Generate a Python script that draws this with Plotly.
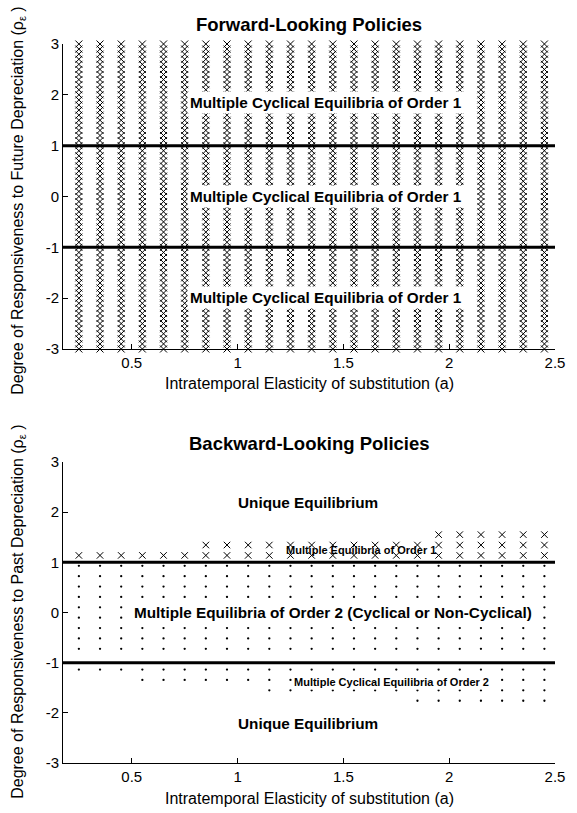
import plotly.graph_objects as go

# ---------------- data ----------------
alpha = [0.25, 0.35, 0.45, 0.55, 0.65, 0.75, 0.85, 0.95, 1.05, 1.15, 1.25, 1.35,
         1.45, 1.55, 1.65, 1.75, 1.85, 1.95, 2.05, 2.15, 2.25, 2.35, 2.45]

# forward-looking: grid of rho values, every one is a cyclical equilibrium (x)
rho_fw = [-3.0, -2.9, -2.8, -2.7, -2.6, -2.5, -2.4, -2.3, -2.2, -2.1,
          -2.0, -1.9, -1.8, -1.7, -1.6, -1.5, -1.4, -1.3, -1.2, -1.1,
          -1.0, -0.9, -0.8, -0.7, -0.6, -0.5, -0.4, -0.3, -0.2, -0.1,
          0.0, 0.1, 0.2, 0.3, 0.4, 0.5, 0.6, 0.7, 0.8, 0.9,
          1.0, 1.1, 1.2, 1.3, 1.4, 1.5, 1.6, 1.7, 1.8, 1.9,
          2.0, 2.1, 2.2, 2.3, 2.4, 2.5, 2.6, 2.7, 2.8, 2.9, 3.0]

# backward-looking: rho rows
rho_bw_above = [1.138, 1.345, 1.552]                 # cyclical order 1 (x)
rho_bw_mid = [0.931, 0.724, 0.517, 0.310, 0.103,
              -0.103, -0.310, -0.517, -0.724]        # order 2 (.)
rho_bw_below = [-1.138, -1.345, -1.552, -1.759]      # cyclical order 2 (.)
n_above = [1, 1, 1, 1, 1, 1, 2, 2, 2, 2, 2, 2, 2, 2, 2, 2, 2, 3, 3, 3, 3, 3, 3]
n_below = [1, 1, 1, 2, 2, 2, 2, 2, 2, 3, 3, 3, 3, 3, 3, 3, 4, 4, 4, 4, 4, 4, 4]

boundaries = [1, -1]
x_ticks = [0.5, 1, 1.5, 2, 2.5]
x_ticktext = ["0.5", "1", "1.5", "2", "2.5"]
y_ticks = [-3, -2, -1, 0, 1, 2, 3]
y_ticktext = ["-3", "-2", "-1", "0", "1", "2", "3"]

FONT = "Liberation Sans, Arial, Helvetica, sans-serif"

# ---------------- traces ----------------
fig = go.Figure()

fx, fy = [], []
for a in alpha:
    for r in rho_fw:
        fx.append(a)
        fy.append(r)
fig.add_trace(go.Scatter(x=fx, y=fy, mode="markers", xaxis="x", yaxis="y",
                         marker=dict(symbol="x-thin", size=7, color="black",
                                     line=dict(width=1, color="black")),
                         cliponaxis=False, showlegend=False, hoverinfo="skip"))

bx, by = [], []
for a, n in zip(alpha, n_above):
    for r in rho_bw_above[:n]:
        bx.append(a)
        by.append(r)
fig.add_trace(go.Scatter(x=bx, y=by, mode="markers", xaxis="x2", yaxis="y2",
                         marker=dict(symbol="x-thin", size=6.5, color="black",
                                     line=dict(width=1, color="black")),
                         cliponaxis=False, showlegend=False, hoverinfo="skip"))

dx, dy = [], []
for a, n in zip(alpha, n_below):
    for r in rho_bw_mid + rho_bw_below[:n]:
        dx.append(a)
        dy.append(r)
fig.add_trace(go.Scatter(x=dx, y=dy, mode="markers", xaxis="x2", yaxis="y2",
                         marker=dict(symbol="circle", size=2.3, color="black",
                                     line=dict(width=0)),
                         cliponaxis=False, showlegend=False, hoverinfo="skip"))

# boundary lines
shapes = []
for xr, yr in (("x domain", "y"), ("x2 domain", "y2")):
    for b in boundaries:
        shapes.append(dict(type="line", xref=xr, yref=yr, x0=0, x1=1, y0=b, y1=b,
                           line=dict(color="black", width=3), layer="above"))

# ---------------- layout ----------------
W, H = 577, 813
ML, MR, MT, MB = 63, 13, 44, 50
PW, PH = W - ML - MR, H - MT - MB


def py(pix):
    return (H - MB - pix) / PH


def px(pix):
    return (pix - ML) / PW


axis_common = dict(showline=True, linecolor="black", linewidth=1, mirror=False,
                   ticks="inside", ticklen=5, tickcolor="black", tickwidth=1,
                   showgrid=False, zeroline=False,
                   tickfont=dict(family=FONT, size=15, color="black"))

xax = dict(axis_common, range=[0.175, 2.5], tickvals=x_ticks, ticktext=x_ticktext)
yax = dict(axis_common, range=[-3, 3], tickvals=y_ticks, ticktext=y_ticktext)

annotations = []
title_font = dict(family=FONT, size=18.5, color="black")
lab_font = dict(family=FONT, size=15.3, color="black")
small_font = dict(family=FONT, size=11, color="black")
axt_font = dict(family=FONT, size=16, color="black")

annotations.append(dict(text="<b>Forward-Looking Policies</b>", xref="paper", yref="paper",
                        x=0.5, y=py(25), xanchor="center", yanchor="middle",
                        showarrow=False, font=title_font))
annotations.append(dict(text="<b>Backward-Looking Policies</b>", xref="paper", yref="paper",
                        x=0.5, y=py(443), xanchor="center", yanchor="middle",
                        showarrow=False, font=title_font))
for ypix in (383, 799):
    annotations.append(dict(text="Intratemporal Elasticity of substitution (a)",
                            xref="paper", yref="paper", x=0.5, y=py(ypix),
                            xanchor="center", yanchor="middle", showarrow=False,
                            font=axt_font))
annotations.append(dict(text="Degree of Responsiveness to Future Depreciation (ρ<sub>ε</sub> )",
                        xref="paper", yref="paper", x=px(17), y=py(200),
                        xanchor="center", yanchor="middle", textangle=-90,
                        showarrow=False, font=axt_font))
annotations.append(dict(text="Degree of Responsiveness to Past Depreciation (ρ<sub>ε</sub> )",
                        xref="paper", yref="paper", x=px(17), y=py(612),
                        xanchor="center", yanchor="middle", textangle=-90,
                        showarrow=False, font=axt_font))

# forward region labels
for yv in (1.84, 0.0, -1.99):
    annotations.append(dict(text="<b>Multiple Cyclical Equilibria of Order 1</b>",
                            xref="x", yref="y", x=0.763, y=yv, xanchor="left",
                            yanchor="middle", showarrow=False, font=lab_font,
                            bgcolor="white", borderpad=2))

# backward region labels
annotations.append(dict(text="<b>Unique Equilibrium</b>", xref="x2", yref="y2",
                        x=1.335, y=2.2, xanchor="center", yanchor="middle",
                        showarrow=False, font=lab_font))
annotations.append(dict(text="<b>Unique Equilibrium</b>", xref="x2", yref="y2",
                        x=1.335, y=-2.22, xanchor="center", yanchor="middle",
                        showarrow=False, font=lab_font))
annotations.append(dict(text="<b>Multiple Equilibria of Order 2 (Cyclical or Non-Cyclical)</b>",
                        xref="x2", yref="y2", x=1.449, y=0.0, xanchor="center",
                        yanchor="middle", showarrow=False, font=lab_font,
                        bgcolor="white", borderpad=2))
annotations.append(dict(text="<b>Multiple Equilibria of Order 1</b>",
                        xref="x2", yref="y2", x=1.581, y=1.25, xanchor="center",
                        yanchor="middle", showarrow=False, font=small_font))
annotations.append(dict(text="<b>Multiple Cyclical Equilibria of Order 2</b>",
                        xref="x2", yref="y2", x=1.725, y=-1.39, xanchor="center",
                        yanchor="middle", showarrow=False, font=small_font,
                        bgcolor="white", borderpad=1))

fig.update_layout(
    width=W, height=H,
    margin=dict(l=ML, r=MR, t=MT, b=MB),
    paper_bgcolor="white", plot_bgcolor="white",
    font=dict(family=FONT, color="black"),
    xaxis=dict(xax, domain=[0, 1], anchor="y"),
    yaxis=dict(yax, domain=[py(349), 1], anchor="x"),
    xaxis2=dict(xax, domain=[0, 1], anchor="y2"),
    yaxis2=dict(yax, domain=[0, py(462)], anchor="x2"),
    shapes=shapes,
    annotations=annotations,
    showlegend=False,
)

fig.write_html("out.html",
               config={"displayModeBar": False, "staticPlot": True},
               post_script="document.body.style.margin='0';"
                           "document.documentElement.style.overflow='hidden';")
